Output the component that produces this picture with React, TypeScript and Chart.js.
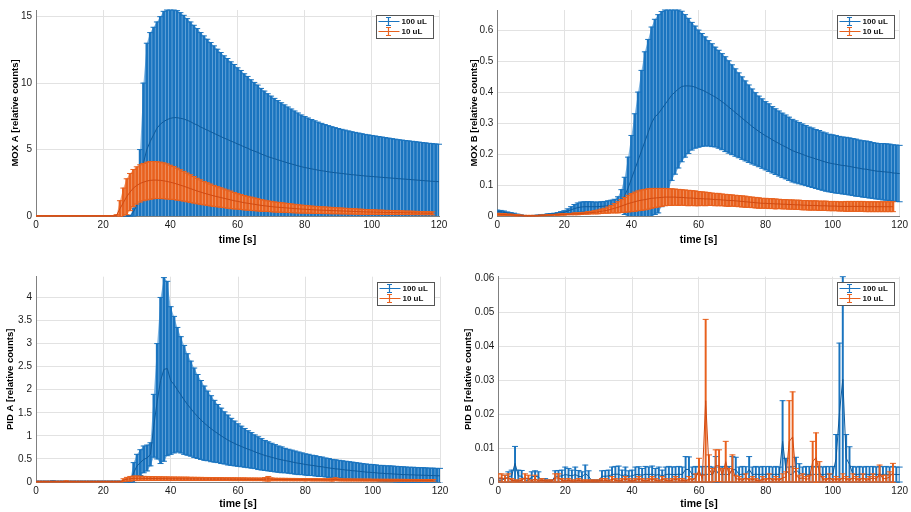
import React, { useEffect, useRef } from "react";
import { Chart, registerables } from "chart.js";

Chart.register(...registerables);

const FONT = '"Liberation Sans", Arial, Helvetica, sans-serif';
Chart.defaults.font.family = FONT;

// ---------- data (time axis in seconds) ----------
const TIME = [
  0, 1, 2, 3, 4, 5, 6, 7, 8, 9,
  10, 11, 12, 13, 14, 15, 16, 17, 18, 19,
  20, 21, 22, 23, 24, 25, 26, 27, 28, 29,
  30, 31, 32, 33, 34, 35, 36, 37, 38, 39,
  40, 41, 42, 43, 44, 45, 46, 47, 48, 49,
  50, 51, 52, 53, 54, 55, 56, 57, 58, 59,
  60, 61, 62, 63, 64, 65, 66, 67, 68, 69,
  70, 71, 72, 73, 74, 75, 76, 77, 78, 79,
  80, 81, 82, 83, 84, 85, 86, 87, 88, 89,
  90, 91, 92, 93, 94, 95, 96, 97, 98, 99,
  100, 101, 102, 103, 104, 105, 106, 107, 108, 109,
  110, 111, 112, 113, 114, 115, 116, 117, 118, 119,
  120,
];

const SERIES_LABELS = ["100 uL", "10 uL"];

// MOX A
const MOXA_100_MEAN = [
  0.01, 0.01, 0.01, 0.01, 0.01, 0.01, 0.01, 0.01, 0.01, 0.01,
  0.01, 0.01, 0.01, 0.01, 0.01, 0.01, 0.01, 0.01, 0.01, 0.01,
  0.01, 0.01, 0.01, 0.01, 0.01, 0.01, 0.01, 0.01, 0.01, 0.3,
  0.8, 2.2, 4.0, 5.0, 5.6, 6.1, 6.6, 6.9, 7.1, 7.25,
  7.35, 7.4, 7.4, 7.35, 7.3, 7.2, 7.1, 6.95, 6.85, 6.7,
  6.58, 6.46, 6.34, 6.22, 6.1, 5.98, 5.86, 5.76, 5.64, 5.54,
  5.42, 5.32, 5.2, 5.1, 4.98, 4.88, 4.79, 4.67, 4.57, 4.47,
  4.39, 4.31, 4.23, 4.15, 4.07, 3.99, 3.92, 3.85, 3.78, 3.71,
  3.65, 3.6, 3.55, 3.5, 3.45, 3.41, 3.37, 3.33, 3.29, 3.26,
  3.23, 3.2, 3.17, 3.14, 3.11, 3.09, 3.06, 3.04, 3.01, 2.99,
  2.97, 2.95, 2.93, 2.91, 2.89, 2.87, 2.85, 2.83, 2.81, 2.79,
  2.77, 2.75, 2.73, 2.71, 2.69, 2.67, 2.65, 2.63, 2.61, 2.6,
  2.58,
];
const MOXA_100_ERR = [
  0.01, 0.01, 0.01, 0.01, 0.01, 0.01, 0.01, 0.01, 0.01, 0.01,
  0.01, 0.01, 0.01, 0.01, 0.01, 0.01, 0.01, 0.01, 0.01, 0.01,
  0.01, 0.01, 0.01, 0.01, 0.01, 0.01, 0.01, 0.01, 0.01, 0.3,
  1.0, 2.8, 6.0, 8.0, 8.2, 8.1, 8.0, 8.1, 8.3, 8.25,
  8.15, 8.1, 8.05, 7.95, 7.8, 7.65, 7.5, 7.4, 7.25, 7.1,
  6.97, 6.84, 6.71, 6.58, 6.45, 6.32, 6.19, 6.09, 5.96, 5.86,
  5.73, 5.63, 5.5, 5.4, 5.27, 5.17, 5.06, 4.93, 4.83, 4.73,
  4.63, 4.54, 4.45, 4.37, 4.29, 4.21, 4.13, 4.05, 3.97, 3.89,
  3.83, 3.77, 3.71, 3.66, 3.61, 3.56, 3.51, 3.47, 3.43, 3.39,
  3.35, 3.32, 3.29, 3.26, 3.23, 3.2, 3.18, 3.15, 3.13, 3.11,
  3.09, 3.07, 3.05, 3.03, 3.01, 2.99, 2.97, 2.95, 2.93, 2.92,
  2.91, 2.9, 2.89, 2.88, 2.87, 2.86, 2.85, 2.84, 2.84, 2.82,
  2.82,
];
const MOXA_10_MEAN = [
  0.01, 0.01, 0.01, 0.01, 0.01, 0.01, 0.01, 0.01, 0.01, 0.01,
  0.01, 0.01, 0.01, 0.01, 0.01, 0.01, 0.01, 0.01, 0.01, 0.01,
  0.01, 0.01, 0.01, 0.01, 0.05, 0.55, 1.0, 1.45, 1.8, 2.1,
  2.3, 2.45, 2.55, 2.63, 2.68, 2.7, 2.7, 2.68, 2.65, 2.6,
  2.54, 2.48, 2.4, 2.32, 2.24, 2.15, 2.06, 1.97, 1.88, 1.8,
  1.72, 1.65, 1.58, 1.51, 1.45, 1.39, 1.33, 1.27, 1.21, 1.15,
  1.1, 1.05, 1.0, 0.96, 0.92, 0.88, 0.84, 0.8, 0.77, 0.74,
  0.71, 0.68, 0.66, 0.64, 0.62, 0.6, 0.58, 0.56, 0.54, 0.52,
  0.51, 0.49, 0.48, 0.46, 0.45, 0.44, 0.43, 0.42, 0.41, 0.4,
  0.39, 0.38, 0.37, 0.36, 0.35, 0.34, 0.33, 0.32, 0.31, 0.3,
  0.3, 0.29, 0.28, 0.28, 0.27, 0.27, 0.26, 0.26, 0.25, 0.25,
  0.24, 0.24, 0.23, 0.23, 0.22, 0.22, 0.21, 0.21, 0.2, null,
  null,
];
const MOXA_10_ERR = [
  0.01, 0.01, 0.01, 0.01, 0.01, 0.01, 0.01, 0.01, 0.01, 0.01,
  0.01, 0.01, 0.01, 0.01, 0.01, 0.01, 0.01, 0.01, 0.01, 0.01,
  0.01, 0.01, 0.01, 0.01, 0.05, 0.6, 1.1, 1.35, 1.4, 1.4,
  1.4, 1.4, 1.4, 1.42, 1.42, 1.4, 1.38, 1.37, 1.35, 1.32,
  1.28, 1.24, 1.2, 1.16, 1.12, 1.08, 1.04, 1.0, 0.96, 0.92,
  0.88, 0.85, 0.82, 0.79, 0.76, 0.73, 0.7, 0.68, 0.66, 0.62,
  0.58, 0.56, 0.54, 0.52, 0.5, 0.48, 0.46, 0.44, 0.42, 0.4,
  0.39, 0.38, 0.37, 0.36, 0.35, 0.34, 0.33, 0.32, 0.31, 0.3,
  0.29, 0.28, 0.27, 0.27, 0.26, 0.25, 0.25, 0.24, 0.24, 0.23,
  0.22, 0.22, 0.21, 0.21, 0.2, 0.2, 0.19, 0.19, 0.18, 0.18,
  0.17, 0.17, 0.16, 0.16, 0.15, 0.15, 0.15, 0.14, 0.14, 0.14,
  0.13, 0.13, 0.13, 0.12, 0.12, 0.12, 0.11, 0.11, 0.11, null,
  null,
];

// MOX B
const MOXB_100_MEAN = [
  0.015, 0.014, 0.012, 0.01, 0.008, 0.006, 0.004, 0.002, 0.001, 0.0005,
  0.0005, 0.001, 0.002, 0.003, 0.004, 0.005, 0.006, 0.007, 0.008, 0.01,
  0.012, 0.016, 0.02, 0.024, 0.027, 0.029, 0.03, 0.03, 0.03, 0.03,
  0.03, 0.031, 0.032, 0.033, 0.034, 0.036, 0.04, 0.05, 0.065, 0.09,
  0.12, 0.15, 0.18, 0.21, 0.24, 0.27, 0.3, 0.32, 0.33, 0.345,
  0.36, 0.375, 0.39, 0.4, 0.41, 0.418, 0.42, 0.42, 0.419, 0.416,
  0.411, 0.407, 0.402, 0.396, 0.39, 0.384, 0.377, 0.369, 0.361, 0.352,
  0.343, 0.334, 0.325, 0.316, 0.307, 0.298, 0.289, 0.281, 0.273, 0.266,
  0.259, 0.253, 0.246, 0.24, 0.234, 0.228, 0.223, 0.217, 0.211, 0.207,
  0.203, 0.199, 0.195, 0.191, 0.188, 0.184, 0.181, 0.177, 0.174, 0.171,
  0.169, 0.167, 0.165, 0.163, 0.162, 0.16, 0.158, 0.156, 0.154, 0.152,
  0.151, 0.149, 0.147, 0.145, 0.144, 0.143, 0.142, 0.141, 0.139, 0.138,
  0.137,
];
const MOXB_100_ERR = [
  0.004, 0.004, 0.004, 0.003, 0.003, 0.003, 0.002, 0.002, 0.001, 0.0005,
  0.0005, 0.001, 0.001, 0.001, 0.001, 0.002, 0.002, 0.002, 0.003, 0.004,
  0.005, 0.007, 0.01, 0.013, 0.015, 0.016, 0.016, 0.016, 0.016, 0.015,
  0.015, 0.015, 0.015, 0.016, 0.017, 0.018, 0.022, 0.035, 0.06, 0.1,
  0.14, 0.18, 0.22, 0.26, 0.29, 0.3, 0.31, 0.315, 0.32, 0.315,
  0.305, 0.29, 0.275, 0.265, 0.255, 0.243, 0.23, 0.218, 0.206, 0.197,
  0.189, 0.182, 0.176, 0.17, 0.166, 0.161, 0.158, 0.155, 0.153, 0.149,
  0.145, 0.141, 0.137, 0.133, 0.129, 0.125, 0.121, 0.117, 0.114, 0.112,
  0.11, 0.109, 0.107, 0.106, 0.105, 0.104, 0.103, 0.102, 0.101, 0.1,
  0.099, 0.098, 0.097, 0.096, 0.096, 0.095, 0.095, 0.094, 0.094, 0.093,
  0.093, 0.093, 0.092, 0.092, 0.092, 0.092, 0.092, 0.092, 0.091, 0.091,
  0.091, 0.091, 0.09, 0.09, 0.09, 0.091, 0.091, 0.091, 0.091, 0.091,
  0.091,
];
const MOXB_10_MEAN = [
  0.006, 0.005, 0.005, 0.004, 0.004, 0.003, 0.002, 0.002, 0.001, 0.001,
  0.001, 0.001, 0.001, 0.002, 0.002, 0.003, 0.003, 0.004, 0.004, 0.005,
  0.005, 0.006, 0.006, 0.007, 0.007, 0.008, 0.009, 0.01, 0.011, 0.012,
  0.013, 0.015, 0.017, 0.019, 0.022, 0.025, 0.028, 0.032, 0.036, 0.04,
  0.043, 0.046, 0.049, 0.051, 0.053, 0.055, 0.057, 0.058, 0.059, 0.06,
  0.061, 0.061, 0.061, 0.061, 0.06, 0.06, 0.059, 0.058, 0.058, 0.057,
  0.056, 0.056, 0.055, 0.055, 0.054, 0.053, 0.053, 0.052, 0.051, 0.05,
  0.05, 0.049, 0.048, 0.047, 0.046, 0.045, 0.044, 0.043, 0.042, 0.041,
  0.041, 0.04, 0.04, 0.039, 0.039, 0.038, 0.038, 0.037, 0.037, 0.036,
  0.036, 0.035, 0.035, 0.034, 0.034, 0.034, 0.033, 0.033, 0.033, 0.032,
  0.032, 0.032, 0.031, 0.031, 0.031, 0.031, 0.031, 0.031, 0.031, 0.031,
  0.03, 0.03, 0.03, 0.03, 0.03, 0.03, 0.03, 0.03, 0.03, null,
  null,
];
const MOXB_10_ERR = [
  0.003, 0.003, 0.003, 0.002, 0.002, 0.002, 0.002, 0.001, 0.001, 0.001,
  0.001, 0.001, 0.001, 0.001, 0.001, 0.001, 0.001, 0.001, 0.002, 0.002,
  0.002, 0.002, 0.002, 0.003, 0.003, 0.003, 0.003, 0.004, 0.004, 0.005,
  0.006, 0.007, 0.008, 0.01, 0.012, 0.015, 0.018, 0.021, 0.024, 0.027,
  0.029, 0.031, 0.032, 0.033, 0.033, 0.033, 0.032, 0.031, 0.03, 0.029,
  0.028, 0.027, 0.027, 0.026, 0.026, 0.025, 0.025, 0.025, 0.024, 0.024,
  0.023, 0.022, 0.022, 0.021, 0.02, 0.02, 0.02, 0.019, 0.019, 0.019,
  0.018, 0.018, 0.018, 0.018, 0.018, 0.017, 0.017, 0.017, 0.017, 0.016,
  0.016, 0.016, 0.016, 0.016, 0.015, 0.015, 0.015, 0.015, 0.015, 0.015,
  0.015, 0.015, 0.015, 0.015, 0.015, 0.015, 0.015, 0.015, 0.015, 0.015,
  0.015, 0.015, 0.015, 0.015, 0.016, 0.016, 0.016, 0.016, 0.016, 0.016,
  0.016, 0.016, 0.016, 0.016, 0.016, 0.016, 0.016, 0.016, 0.016, null,
  null,
];

// PID A
const PIDA_100_MEAN = [
  0.01, 0.01, 0.01, 0.01, 0.01, 0.015, 0.01, 0.01, 0.01, 0.01,
  0.01, 0.01, 0.01, 0.01, 0.01, 0.01, 0.01, 0.01, 0.01, 0.01,
  0.01, 0.01, 0.01, 0.01, 0.01, 0.01, 0.01, 0.01, 0.02, 0.2,
  0.35, 0.42, 0.49, 0.52, 0.6, 1.22, 1.75, 2.2, 2.44, 2.46,
  2.2, 2.11, 2.0, 1.89, 1.78, 1.68, 1.59, 1.5, 1.42, 1.345,
  1.275, 1.215, 1.155, 1.1, 1.05, 1.0, 0.955, 0.91, 0.87, 0.835,
  0.8, 0.77, 0.74, 0.71, 0.685, 0.655, 0.625, 0.6, 0.575, 0.555,
  0.535, 0.515, 0.495, 0.48, 0.465, 0.45, 0.435, 0.42, 0.405, 0.395,
  0.38, 0.37, 0.36, 0.35, 0.335, 0.33, 0.315, 0.305, 0.295, 0.285,
  0.28, 0.27, 0.26, 0.255, 0.245, 0.24, 0.23, 0.225, 0.215, 0.21,
  0.205, 0.2, 0.19, 0.19, 0.18, 0.18, 0.175, 0.17, 0.165, 0.16,
  0.16, 0.155, 0.155, 0.15, 0.15, 0.145, 0.145, 0.14, 0.14, 0.135,
  0.135,
];
const PIDA_100_ERR = [
  0.01, 0.01, 0.01, 0.01, 0.01, 0.015, 0.01, 0.01, 0.01, 0.01,
  0.01, 0.01, 0.01, 0.01, 0.01, 0.01, 0.01, 0.01, 0.01, 0.01,
  0.01, 0.01, 0.01, 0.01, 0.01, 0.01, 0.01, 0.01, 0.03, 0.22,
  0.25, 0.28, 0.29, 0.28, 0.25, 0.68, 1.25, 1.8, 1.99, 1.89,
  1.6, 1.48, 1.35, 1.26, 1.18, 1.1, 1.03, 0.97, 0.91, 0.855,
  0.805, 0.755, 0.715, 0.67, 0.63, 0.6, 0.565, 0.54, 0.51, 0.485,
  0.46, 0.44, 0.42, 0.4, 0.385, 0.365, 0.355, 0.34, 0.325, 0.315,
  0.305, 0.295, 0.285, 0.28, 0.265, 0.26, 0.255, 0.25, 0.245, 0.235,
  0.23, 0.23, 0.22, 0.22, 0.215, 0.21, 0.205, 0.205, 0.195, 0.195,
  0.19, 0.19, 0.19, 0.185, 0.185, 0.18, 0.18, 0.175, 0.175, 0.173,
  0.175, 0.17, 0.17, 0.17, 0.17, 0.17, 0.17, 0.17, 0.17, 0.17,
  0.165, 0.165, 0.165, 0.165, 0.16, 0.165, 0.16, 0.16, 0.16, 0.16,
  0.16,
];
const PIDA_10_MEAN = [
  0.008, 0.008, 0.008, 0.008, 0.008, 0.008, 0.008, 0.008, 0.008, 0.012,
  0.008, 0.008, 0.008, 0.008, 0.008, 0.008, 0.008, 0.008, 0.008, 0.008,
  0.008, 0.008, 0.008, 0.008, 0.008, 0.008, 0.04, 0.06, 0.07, 0.08,
  0.08, 0.08, 0.078, 0.077, 0.076, 0.075, 0.074, 0.073, 0.072, 0.071,
  0.07, 0.07, 0.069, 0.069, 0.068, 0.068, 0.067, 0.067, 0.066, 0.066,
  0.065, 0.065, 0.064, 0.064, 0.063, 0.063, 0.062, 0.062, 0.061, 0.061,
  0.06, 0.06, 0.059, 0.059, 0.058, 0.058, 0.057, 0.057, 0.06, 0.07,
  0.058, 0.055, 0.054, 0.054, 0.053, 0.053, 0.052, 0.052, 0.051, 0.051,
  0.05, 0.05, 0.049, 0.049, 0.048, 0.048, 0.047, 0.047, 0.05, 0.06,
  0.048, 0.046, 0.045, 0.045, 0.044, 0.044, 0.043, 0.043, 0.042, 0.042,
  0.041, 0.041, 0.04, 0.04, 0.04, 0.039, 0.039, 0.039, 0.038, 0.038,
  0.038, 0.037, 0.037, 0.037, 0.036, 0.036, 0.036, 0.035, 0.035, null,
  null,
];
const PIDA_10_ERR = [
  0.008, 0.008, 0.008, 0.008, 0.008, 0.008, 0.008, 0.008, 0.008, 0.012,
  0.008, 0.008, 0.008, 0.008, 0.008, 0.008, 0.008, 0.008, 0.008, 0.008,
  0.008, 0.008, 0.008, 0.008, 0.008, 0.008, 0.03, 0.04, 0.05, 0.05,
  0.05, 0.045, 0.044, 0.043, 0.042, 0.041, 0.04, 0.04, 0.039, 0.039,
  0.038, 0.038, 0.037, 0.037, 0.036, 0.036, 0.035, 0.035, 0.034, 0.034,
  0.033, 0.033, 0.032, 0.032, 0.031, 0.031, 0.03, 0.03, 0.03, 0.03,
  0.029, 0.029, 0.029, 0.028, 0.028, 0.028, 0.027, 0.027, 0.035, 0.05,
  0.03, 0.027, 0.026, 0.026, 0.026, 0.025, 0.025, 0.025, 0.024, 0.024,
  0.024, 0.023, 0.023, 0.023, 0.022, 0.022, 0.022, 0.022, 0.03, 0.03,
  0.022, 0.021, 0.021, 0.021, 0.02, 0.02, 0.02, 0.02, 0.02, 0.02,
  0.019, 0.019, 0.019, 0.019, 0.019, 0.019, 0.019, 0.019, 0.019, 0.019,
  0.018, 0.018, 0.018, 0.018, 0.018, 0.018, 0.018, 0.018, 0.018, null,
  null,
];

// PID B
const PIDB_100_MEAN = [
  0.0005, 0.0005, 0.001, 0.0015, 0.0018, 0.0055, 0.0018, 0.0017, 0.0005, 0.0005,
  0.0015, 0.0017, 0.0015, 0.0005, 0.0005, 0.0003, 0.0003, 0.0017, 0.0017, 0.0018,
  0.0022, 0.002, 0.0018, 0.0022, 0.0017, 0.0015, 0.0025, 0.0017, 0.0003, 0.0003,
  0.0003, 0.0017, 0.0017, 0.0018, 0.0022, 0.0023, 0.0023, 0.0018, 0.0022, 0.0017,
  0.0018, 0.0022, 0.0022, 0.002, 0.0023, 0.0022, 0.0023, 0.002, 0.0022, 0.0018,
  0.0022, 0.0023, 0.0022, 0.0022, 0.0023, 0.0022, 0.0037, 0.0037, 0.0022, 0.0023,
  0.0022, 0.0023, 0.0022, 0.0023, 0.0022, 0.0037, 0.0022, 0.0023, 0.0022, 0.0023,
  0.0037, 0.0036, 0.0022, 0.0023, 0.0022, 0.0037, 0.0022, 0.0023, 0.0022, 0.0023,
  0.0022, 0.0023, 0.0022, 0.0023, 0.0022, 0.012, 0.0035, 0.0022, 0.0023, 0.0036,
  0.0027, 0.0022, 0.0023, 0.0022, 0.0023, 0.0022, 0.0023, 0.0022, 0.0023, 0.0022,
  0.0023, 0.007, 0.0205, 0.0303, 0.007, 0.0052, 0.0023, 0.0022, 0.0023, 0.0022,
  0.0023, 0.0022, 0.0023, 0.0022, 0.0023, 0.0022, 0.0023, 0.0022, 0.0023, 0.0022,
  0.0022,
];
const PIDB_100_ERR = [
  0.0005, 0.0005, 0.001, 0.0015, 0.0017, 0.005, 0.0017, 0.0017, 0.0005, 0.0005,
  0.0015, 0.0016, 0.0015, 0.0005, 0.0005, 0.0003, 0.0003, 0.0016, 0.0017, 0.0017,
  0.0022, 0.002, 0.0017, 0.0022, 0.0017, 0.0015, 0.0025, 0.0016, 0.0003, 0.0003,
  0.0003, 0.0016, 0.0017, 0.0017, 0.0022, 0.0023, 0.0024, 0.0017, 0.0022, 0.0016,
  0.0017, 0.0022, 0.0023, 0.002, 0.0023, 0.0022, 0.0024, 0.002, 0.0022, 0.0017,
  0.0022, 0.0023, 0.0022, 0.0023, 0.0023, 0.0022, 0.0038, 0.0037, 0.0022, 0.0023,
  0.0022, 0.0023, 0.0023, 0.0023, 0.0022, 0.0038, 0.0022, 0.0023, 0.0023, 0.0023,
  0.0038, 0.0037, 0.0022, 0.0023, 0.0023, 0.0038, 0.0022, 0.0023, 0.0022, 0.0023,
  0.0023, 0.0023, 0.0022, 0.0023, 0.0022, 0.012, 0.0035, 0.0022, 0.0023, 0.0037,
  0.0027, 0.0022, 0.0023, 0.0023, 0.0023, 0.0022, 0.0023, 0.0022, 0.0023, 0.0023,
  0.0023, 0.007, 0.0205, 0.0303, 0.007, 0.0052, 0.0023, 0.0022, 0.0023, 0.0022,
  0.0023, 0.0023, 0.0023, 0.0022, 0.0023, 0.0023, 0.0023, 0.0022, 0.0023, 0.0022,
  0.0022,
];
const PIDB_10_MEAN = [
  0.0012, 0.0012, 0.001, 0.0012, 0.0005, 0.0003, 0.0003, 0.0005, 0.0012, 0.001,
  0.0003, 0.001, 0.0003, 0.0005, 0.0003, 0.0003, 0.0003, 0.0012, 0.0012, 0.0005,
  0.0003, 0.0005, 0.0003, 0.0003, 0.0005, 0.0003, 0.0003, 0.0003, 0.0003, 0.0003,
  0.0003, 0.0005, 0.0005, 0.0003, 0.0008, 0.0005, 0.0003, 0.0005, 0.0008, 0.0005,
  0.0003, 0.0005, 0.0008, 0.0005, 0.0003, 0.0005, 0.0008, 0.0005, 0.0003, 0.0008,
  0.0005, 0.0003, 0.0005, 0.0008, 0.0005, 0.0005, 0.0003, 0.0008, 0.0005, 0.0012,
  0.0035, 0.001, 0.024, 0.004, 0.002, 0.0048, 0.0048, 0.002, 0.006, 0.002,
  0.004, 0.001, 0.0008, 0.0005, 0.0012, 0.0005, 0.0008, 0.0005, 0.0003, 0.0008,
  0.0005, 0.0012, 0.0005, 0.0008, 0.0005, 0.0012, 0.0015, 0.012, 0.0133, 0.002,
  0.001, 0.0012, 0.0008, 0.001, 0.006, 0.0072, 0.003, 0.0008, 0.0005, 0.0012,
  0.0005, 0.0008, 0.0005, 0.0012, 0.0008, 0.0005, 0.0012, 0.0008, 0.0005, 0.0012,
  0.0005, 0.0008, 0.0012, 0.0008, 0.0025, 0.001, 0.001, 0.0015, 0.0027, null,
  null,
];
const PIDB_10_ERR = [
  0.0012, 0.0012, 0.001, 0.0012, 0.0005, 0.0003, 0.0003, 0.0005, 0.0012, 0.001,
  0.0003, 0.001, 0.0003, 0.0005, 0.0003, 0.0003, 0.0003, 0.0012, 0.0012, 0.0005,
  0.0003, 0.0005, 0.0003, 0.0003, 0.0005, 0.0003, 0.0003, 0.0003, 0.0003, 0.0003,
  0.0003, 0.0005, 0.0005, 0.0003, 0.0008, 0.0005, 0.0003, 0.0005, 0.0008, 0.0005,
  0.0003, 0.0005, 0.0008, 0.0005, 0.0003, 0.0005, 0.0008, 0.0005, 0.0003, 0.0008,
  0.0005, 0.0003, 0.0005, 0.0008, 0.0005, 0.0005, 0.0003, 0.0008, 0.0005, 0.0012,
  0.0035, 0.001, 0.024, 0.004, 0.002, 0.0047, 0.0047, 0.002, 0.006, 0.002,
  0.004, 0.001, 0.0008, 0.0005, 0.0012, 0.0005, 0.0008, 0.0005, 0.0003, 0.0008,
  0.0005, 0.0012, 0.0005, 0.0008, 0.0005, 0.0012, 0.0015, 0.012, 0.0133, 0.002,
  0.001, 0.0012, 0.0008, 0.001, 0.006, 0.0073, 0.003, 0.0008, 0.0005, 0.0012,
  0.0005, 0.0008, 0.0005, 0.0012, 0.0008, 0.0005, 0.0012, 0.0008, 0.0005, 0.0012,
  0.0005, 0.0008, 0.0012, 0.0008, 0.0025, 0.001, 0.001, 0.0015, 0.0028, null,
  null,
];

// ---------- styling ----------
const BLUE = "#1a74bf";
const BLUE_FILL = "#7db4e2";
const BLUE_MEAN = "#0f5b9c";
const ORANGE = "#e8611e";
const ORANGE_FILL = "#f4a47a";
const ORANGE_MEAN = "#d04a12";
const GRID = "#e2e2e2";
const AXIS = "#808080";
const TEXT = "#1a1a1a";

type PanelCfg = {
  left: number; top: number; w: number; h: number;
  areaL: number; areaR: number; areaT: number; areaB: number;
  yTitleX: number; xTitleFromBottom: number;
  yMax: number; yStep: number; yLabel: string;
  blue: [(number | null)[], (number | null)[]];
  orange: [(number | null)[], (number | null)[]];
  dense: boolean;
};

const PANELS: PanelCfg[] = [
  {
    left: 0, top: 0, w: 455, h: 256,
    areaL: 36, areaR: 439, areaT: 10, areaB: 216,
    yTitleX: 15, xTitleFromBottom: 16,
    yMax: 15.5, yStep: 5, yLabel: "MOX A [relative counts]",
    blue: [MOXA_100_MEAN, MOXA_100_ERR], orange: [MOXA_10_MEAN, MOXA_10_ERR], dense: true,
  },
  {
    left: 455, top: 0, w: 456, h: 256,
    areaL: 42.3, areaR: 445.7, areaT: 10, areaB: 216,
    yTitleX: 19, xTitleFromBottom: 16,
    yMax: 0.665, yStep: 0.1, yLabel: "MOX B [relative counts]",
    blue: [MOXB_100_MEAN, MOXB_100_ERR], orange: [MOXB_10_MEAN, MOXB_10_ERR], dense: true,
  },
  {
    left: 0, top: 256, w: 455, h: 256,
    areaL: 36, areaR: 440, areaT: 20.7, areaB: 226,
    yTitleX: 10, xTitleFromBottom: 8,
    yMax: 4.45, yStep: 0.5, yLabel: "PID A [relative counts]",
    blue: [PIDA_100_MEAN, PIDA_100_ERR], orange: [PIDA_10_MEAN, PIDA_10_ERR], dense: true,
  },
  {
    left: 455, top: 256, w: 456, h: 256,
    areaL: 43.3, areaR: 445.7, areaT: 20.7, areaB: 226,
    yTitleX: 13.3, xTitleFromBottom: 8,
    yMax: 0.0606, yStep: 0.01, yLabel: "PID B [relative counts]",
    blue: [PIDB_100_MEAN, PIDB_100_ERR], orange: [PIDB_10_MEAN, PIDB_10_ERR], dense: false,
  },
];

function seriesDatasets(
  mean: (number | null)[], err: (number | null)[],
  color: string, fillColor: string, meanColor: string, base: number, dense: boolean
) {
  const pts: { t: number; m: number; e: number }[] = [];
  TIME.forEach((t, i) => {
    const m = mean[i];
    const e = err[i];
    if (m == null || e == null) return;
    pts.push({ t, m, e });
  });
  const lo = () => pts.map((p) => ({ x: p.t, y: p.m - p.e }));
  const hi = () => pts.map((p) => ({ x: p.t, y: p.m + p.e }));
  const capClip = { left: 0, top: 2, right: 4, bottom: 1 };
  const ds: any[] = [];
  if (dense) {
    ds.push({ type: "line", data: lo(), borderWidth: 0, pointRadius: 0, fill: false, order: base + 6, clip: 0 });
    ds.push({ type: "line", data: hi(), borderWidth: 0, pointRadius: 0, fill: "-1", backgroundColor: fillColor, order: base + 5, clip: 0 });
  }
  ds.push({
    type: "bar",
    data: pts.map((p) => ({ x: p.t, y: [p.m - p.e, p.m + p.e] })),
    backgroundColor: color, borderWidth: 0, barThickness: dense ? 2 : 1.3, grouped: false,
    order: base + 4, clip: 0,
  });
  for (const [data, ord] of [[hi(), base + 3], [lo(), base + 2]] as const) {
    ds.push({
      type: "line", data, showLine: false, pointStyle: "line", pointRadius: 3,
      pointBorderColor: color, pointBackgroundColor: color, pointBorderWidth: 1,
      order: ord, clip: capClip,
    });
  }
  ds.push({
    type: "line", data: pts.map((p) => ({ x: p.t, y: p.m })), borderColor: meanColor,
    borderWidth: 1, pointRadius: 0, fill: false, order: base + 1, clip: capClip,
  });
  return ds;
}

function legendPlugin() {
  return {
    id: "errLegend",
    afterDraw(chart: any) {
      const { ctx, chartArea } = chart;
      const w = 57, h = 23;
      const x = Math.round(chartArea.right - 6 - w) + 0.5;
      const y = Math.round(chartArea.top + 5) + 0.5;
      ctx.save();
      ctx.globalAlpha = 1;
      ctx.globalCompositeOperation = "source-over";
      ctx.setLineDash([]);
      ctx.fillStyle = "#ffffff";
      ctx.fillRect(x, y, w, h);
      ctx.strokeStyle = "#555555";
      ctx.lineWidth = 1;
      ctx.strokeRect(x, y, w, h);
      const items = [
        { label: SERIES_LABELS[0], color: BLUE },
        { label: SERIES_LABELS[1], color: ORANGE },
      ];
      items.forEach((it, i) => {
        const cy = y + 6 + i * 10;
        const cx = x + 12;
        ctx.strokeStyle = it.color;
        ctx.lineWidth = 1.2;
        ctx.beginPath();
        ctx.moveTo(x + 2, cy);
        ctx.lineTo(x + 23, cy);
        ctx.moveTo(cx, cy - 4);
        ctx.lineTo(cx, cy + 4);
        ctx.moveTo(cx - 2.5, cy - 4);
        ctx.lineTo(cx + 2.5, cy - 4);
        ctx.moveTo(cx - 2.5, cy + 4);
        ctx.lineTo(cx + 2.5, cy + 4);
        ctx.stroke();
        ctx.fillStyle = "#111111";
        ctx.font = `bold 8px ${FONT}`;
        ctx.textBaseline = "middle";
        ctx.textAlign = "left";
        ctx.fillText(it.label, x + 25, cy);
      });
      ctx.restore();
    },
  };
}

const fmt = (v: any) => String(Math.round(Number(v) * 1e6) / 1e6);

function buildConfig(p: PanelCfg): any {
  const datasets = [
    ...seriesDatasets(p.blue[0], p.blue[1], BLUE, BLUE_FILL, BLUE_MEAN, 10, p.dense),
    ...seriesDatasets(p.orange[0], p.orange[1], ORANGE, ORANGE_FILL, ORANGE_MEAN, 0, p.dense),
  ];
  const xH = p.h - p.areaB;
  const xLH = 10.5 * 1.2;
  const yLH = 9.5 * 1.2;
  return {
    type: "bar",
    data: { datasets },
    plugins: [legendPlugin()],
    options: {
      animation: false,
      responsive: false,
      devicePixelRatio: 1,
      events: [],
      layout: { padding: { left: 0, right: p.w - p.areaR, top: p.areaT, bottom: 0 } },
      plugins: { legend: { display: false }, tooltip: { enabled: false } },
      scales: {
        x: {
          type: "linear", min: 0, max: 120, offset: false,
          ticks: { stepSize: 20, color: TEXT, font: { size: 10 }, padding: 3, maxRotation: 0, autoSkip: false, includeBounds: false, callback: fmt },
          grid: { color: GRID, drawTicks: false, offset: false },
          border: { display: true, color: AXIS },
          title: { display: true, text: "time [s]", color: "#000", font: { size: 10.5, weight: "bold" }, padding: { top: 0, bottom: p.xTitleFromBottom - xLH / 2 } },
          afterFit: (s: any) => { s.height = xH; },
        },
        y: {
          type: "linear", min: 0, max: p.yMax,
          ticks: { stepSize: p.yStep, color: TEXT, font: { size: 10 }, padding: 4, includeBounds: false, callback: fmt },
          grid: { color: GRID, drawTicks: false },
          border: { display: true, color: AXIS },
          title: { display: true, text: p.yLabel, color: "#000", font: { size: 9.5, weight: "bold" }, padding: { top: p.yTitleX - yLH / 2, bottom: 0 } },
          afterFit: (s: any) => { s.width = p.areaL; },
        },
      },
    },
  };
}

function Panel({ cfg }: { cfg: PanelCfg }) {
  const ref = useRef<HTMLCanvasElement | null>(null);
  useEffect(() => {
    if (!ref.current) return;
    const chart = new Chart(ref.current, buildConfig(cfg));
    return () => chart.destroy();
  }, [cfg]);
  return (
    <canvas
      ref={ref}
      width={cfg.w}
      height={cfg.h}
      style={{ position: "absolute", left: cfg.left, top: cfg.top, width: cfg.w, height: cfg.h }}
    />
  );
}

export default function App() {
  return (
    <div style={{ position: "fixed", left: 0, top: 0, width: 911, height: 512, background: "#ffffff", overflow: "hidden" }}>
      {PANELS.map((p, i) => (
        <Panel key={i} cfg={p} />
      ))}
    </div>
  );
}
